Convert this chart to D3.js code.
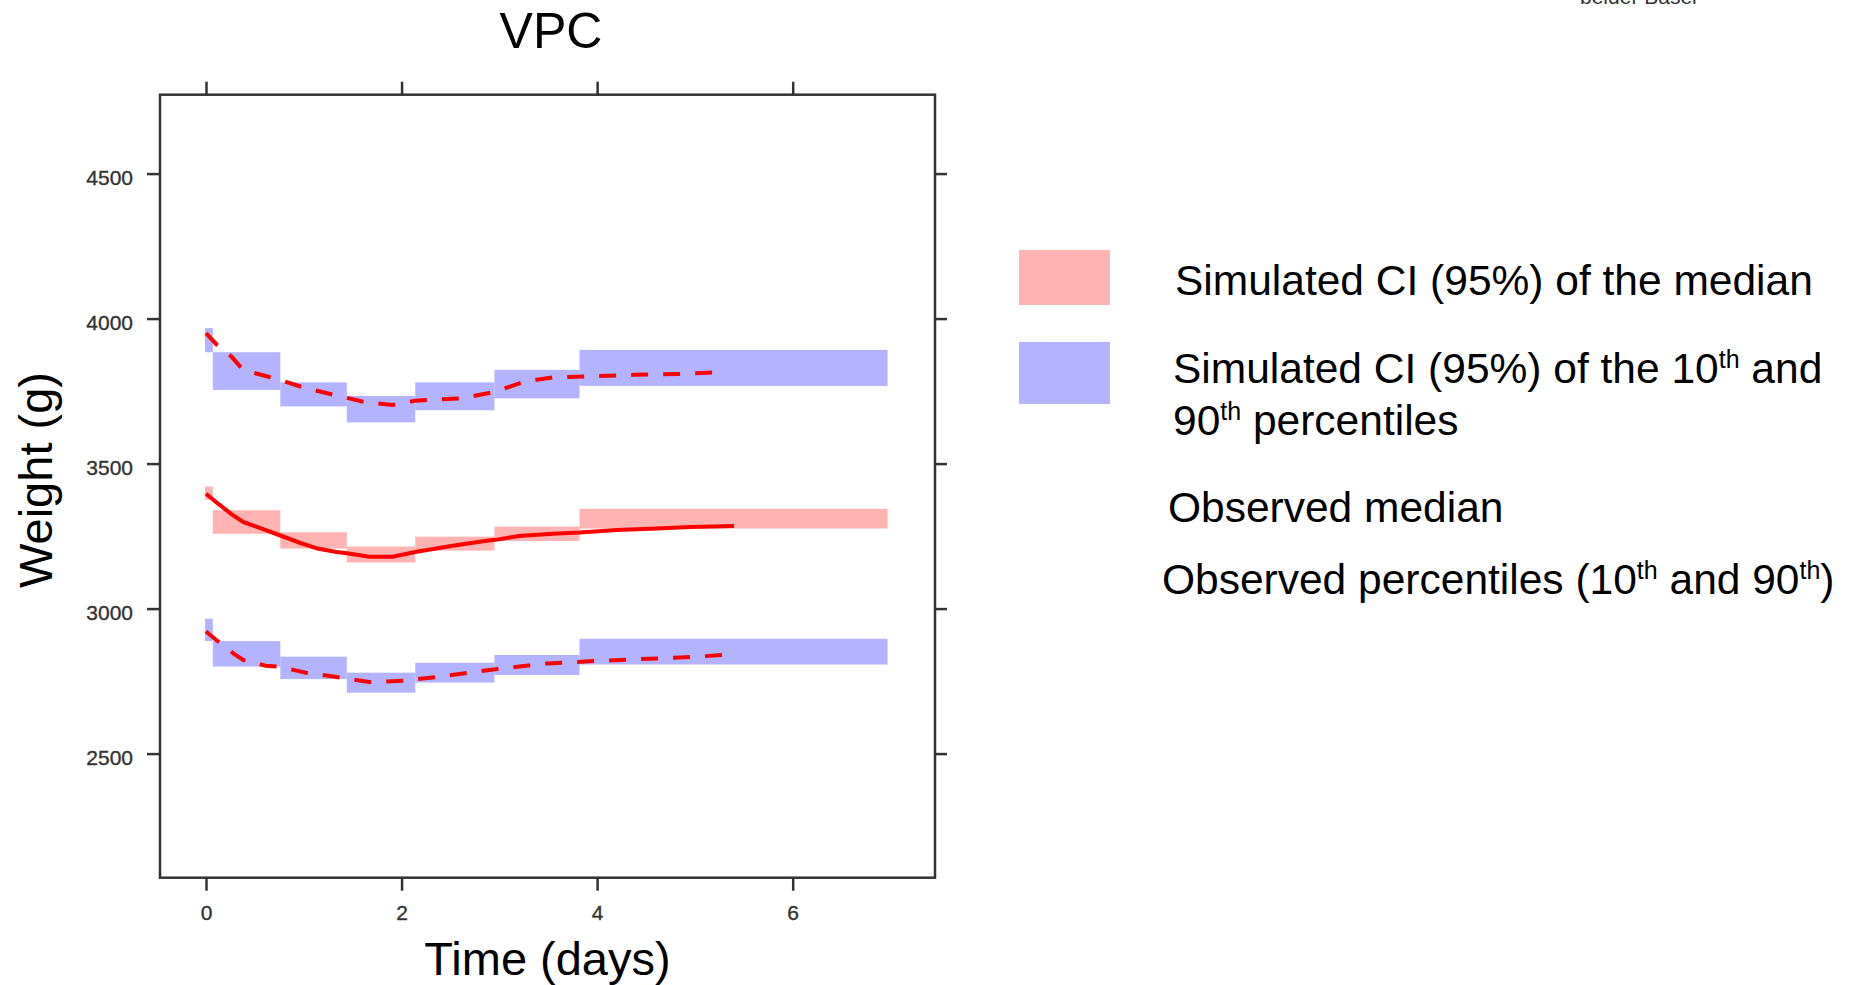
<!DOCTYPE html>
<html><head><meta charset="utf-8">
<script src="https://cdn.jsdelivr.net/npm/d3@7"></script>
<style>
html,body{margin:0;padding:0;background:#fff;}
svg{display:block;font-family:"Liberation Sans",Arial,sans-serif;}
</style></head><body>
<svg id="chart" width="1856" height="985"></svg>
<script>
// Time bins (days) of the simulated confidence boxes
const binEdges = [-0.01, 0.07, 0.76, 1.44, 2.14, 2.95, 3.82, 6.97];
// Simulated 95% CI of the median, per bin (g)
const medianCILow  = [3375, 3258, 3207, 3159, 3200, 3233, 3276];
const medianCIHigh = [3421, 3339, 3263, 3214, 3248, 3283, 3344];
// Simulated 95% CI of the 90th percentile, per bin (g)
const p90CILow  = [3884, 3754, 3697, 3642, 3684, 3725, 3768];
const p90CIHigh = [3967, 3884, 3780, 3733, 3780, 3823, 3892];
// Simulated 95% CI of the 10th percentile, per bin (g)
const p10CILow  = [2888, 2800, 2757, 2710, 2745, 2771, 2807];
const p10CIHigh = [2965, 2888, 2834, 2779, 2813, 2840, 2896];

// Observed median
const medianTime = [0, 0.13, 0.26, 0.38, 0.55, 0.76, 0.96, 1.14, 1.32, 1.44, 1.67, 1.91, 2.14, 2.49, 2.85, 2.96, 3.2, 3.55, 3.82, 4.2, 4.61, 4.96, 5.4];
const medianObs  = [3396, 3360, 3326, 3299, 3278, 3252, 3227, 3207, 3196, 3191, 3179, 3179, 3195, 3215, 3233, 3237, 3250, 3258, 3262, 3271, 3276, 3281, 3285];
// Observed 90th percentile
const p90Time = [0, 0.11, 0.26, 0.38, 0.61, 0.76, 1.02, 1.32, 1.61, 1.91, 2.14, 2.61, 2.96, 3.26, 3.55, 3.99, 4.38, 4.85, 5.31];
const p90Obs  = [3950, 3910, 3869, 3823, 3802, 3788, 3760, 3736, 3713, 3702, 3717, 3725, 3748, 3783, 3797, 3802, 3806, 3809, 3816];
// Observed 10th percentile
const p10Time = [0, 0.13, 0.29, 0.38, 0.61, 0.76, 1.02, 1.32, 1.67, 2.02, 2.38, 2.96, 3.49, 3.96, 4.38, 4.85, 5.35];
const p10Obs  = [2921, 2885, 2843, 2823, 2803, 2799, 2779, 2765, 2747, 2751, 2765, 2791, 2811, 2819, 2825, 2831, 2841];

// Axis ticks
const xTicks = [0, 2, 4, 6];
const yTicks = [2500, 3000, 3500, 4000, 4500];

const svg = d3.select("#chart");
const plotL = 160, plotR = 935, plotT = 94.7, plotB = 877.7;
const x = d3.scaleLinear().domain([-0.4704, 7.4553]).range([plotL, plotR]);
const y = d3.scaleLinear().domain([2072, 4772]).range([plotB, plotT]);

const PINK = "#ffb3b3", BLUE = "#b3b3ff", RED = "#ff0000", INK = "#333";

const defs = svg.append("defs");
const shadow = defs.append("filter").attr("id", "lineShadow")
  .attr("x", "-10%").attr("y", "-100%").attr("width", "120%").attr("height", "400%");
shadow.append("feDropShadow").attr("dx", 0).attr("dy", 3).attr("stdDeviation", 2)
  .attr("flood-color", "#000").attr("flood-opacity", 0.35);

// Confidence boxes
function boxes(lo, hi, color) {
  svg.append("g").selectAll("rect").data(lo).join("rect")
    .attr("x", (d, i) => x(binEdges[i]))
    .attr("width", (d, i) => x(binEdges[i + 1]) - x(binEdges[i]))
    .attr("y", (d, i) => y(hi[i]))
    .attr("height", (d, i) => y(lo[i]) - y(hi[i]))
    .attr("fill", color);
}
boxes(medianCILow, medianCIHigh, PINK);
boxes(p90CILow, p90CIHigh, BLUE);
boxes(p10CILow, p10CIHigh, BLUE);

// Observed lines
const line = d3.line().x(d => x(d[0])).y(d => y(d[1]));
function obsLine(t, v, dash, w) {
  svg.append("path").datum(t.map((d, i) => [d, v[i]]))
    .attr("d", line).attr("fill", "none").attr("stroke", RED)
    .attr("stroke-width", w).attr("stroke-dasharray", dash);
}
obsLine(medianTime, medianObs, null, 4);
obsLine(p90Time, p90Obs, "17,15", 4);
obsLine(p10Time, p10Obs, "17,15", 4);

// Frame
svg.append("rect").attr("x", plotL).attr("y", plotT)
  .attr("width", plotR - plotL).attr("height", plotB - plotT)
  .attr("fill", "none").attr("stroke", INK).attr("stroke-width", 2.5);

function styleAxis(g) {
  g.select(".domain").remove();
  g.selectAll(".tick line").attr("stroke", INK).attr("stroke-width", 2.5);
  g.selectAll(".tick text").attr("fill", "#333").attr("stroke", "#333").attr("stroke-width", 0.35)
    .style("font-size", "21px")
    .style("font-family", '"Liberation Sans", Arial, sans-serif');
}
const fmt = d3.format("d");
svg.append("g").attr("transform", `translate(0,${plotB})`)
  .call(d3.axisBottom(x).tickValues(xTicks).tickFormat(fmt).tickSize(13).tickPadding(14).tickSizeOuter(0))
  .call(styleAxis);
svg.append("g").attr("transform", `translate(0,${plotT})`)
  .call(d3.axisTop(x).tickValues(xTicks).tickSize(13).tickFormat("").tickSizeOuter(0))
  .call(styleAxis);
svg.append("g").attr("transform", `translate(${plotL},0)`)
  .call(d3.axisLeft(y).tickValues(yTicks).tickFormat(fmt).tickSize(13).tickPadding(14).tickSizeOuter(0))
  .call(styleAxis)
  .selectAll(".tick text").attr("dy", "0.52em");
svg.append("g").attr("transform", `translate(${plotR},0)`)
  .call(d3.axisRight(y).tickValues(yTicks).tickSize(12).tickFormat("").tickSizeOuter(0))
  .call(styleAxis);

// Titles
svg.append("text").attr("x", 551).attr("y", 48).attr("text-anchor", "middle")
  .style("font-size", "50px").text("VPC");
svg.append("text").attr("x", (plotL + plotR) / 2).attr("y", 975).attr("text-anchor", "middle")
  .style("font-size", "47px").text("Time (days)");
svg.append("text").attr("transform", "translate(52,480) rotate(-90)").attr("text-anchor", "middle")
  .style("font-size", "47px").text("Weight (g)");
svg.append("text").attr("x", 1580).attr("y", 4).style("font-size", "21px").attr("fill", "#333")
  .text("beider Basel");

// Legend
const lg = svg.append("g");
lg.append("rect").attr("x", 1019).attr("y", 250).attr("width", 91).attr("height", 55).attr("fill", PINK);
lg.append("rect").attr("x", 1019).attr("y", 342).attr("width", 91).attr("height", 62).attr("fill", BLUE);
lg.append("line").attr("x1", 1019).attr("x2", 1110).attr("y1", 512).attr("y2", 512)
  .attr("stroke", RED).attr("stroke-width", 6).attr("filter", "url(#lineShadow)");
lg.append("line").attr("x1", 1019).attr("x2", 1110).attr("y1", 577).attr("y2", 577)
  .attr("stroke", RED).attr("stroke-width", 5).attr("stroke-dasharray", "6.5,4")
  .attr("filter", "url(#lineShadow)");

// Legend label; parts marked sup are set as raised small text
function legendText(xp, yp, parts) {
  const t = lg.append("text").attr("x", xp).attr("y", yp).style("font-size", "42.5px");
  let shift = 0;
  parts.forEach(p => {
    const span = t.append("tspan").text(p.s);
    if (p.sup) {
      span.attr("dy", -15).style("font-size", "25px");
      shift = 15;
    } else if (shift) {
      span.attr("dy", shift);
      shift = 0;
    }
  });
  return t;
}
legendText(1175, 295, [{s: "Simulated CI (95%) of the median"}]);
legendText(1173, 383, [{s: "Simulated CI (95%) of the 10"}, {s: "th", sup: true}, {s: " and"}]);
legendText(1173, 435, [{s: "90"}, {s: "th", sup: true}, {s: " percentiles"}]);
legendText(1168, 522, [{s: "Observed median"}]);
legendText(1162, 594, [{s: "Observed percentiles (10"}, {s: "th", sup: true}, {s: " and 90"}, {s: "th", sup: true}, {s: ")"}]);
</script>
</body></html>
